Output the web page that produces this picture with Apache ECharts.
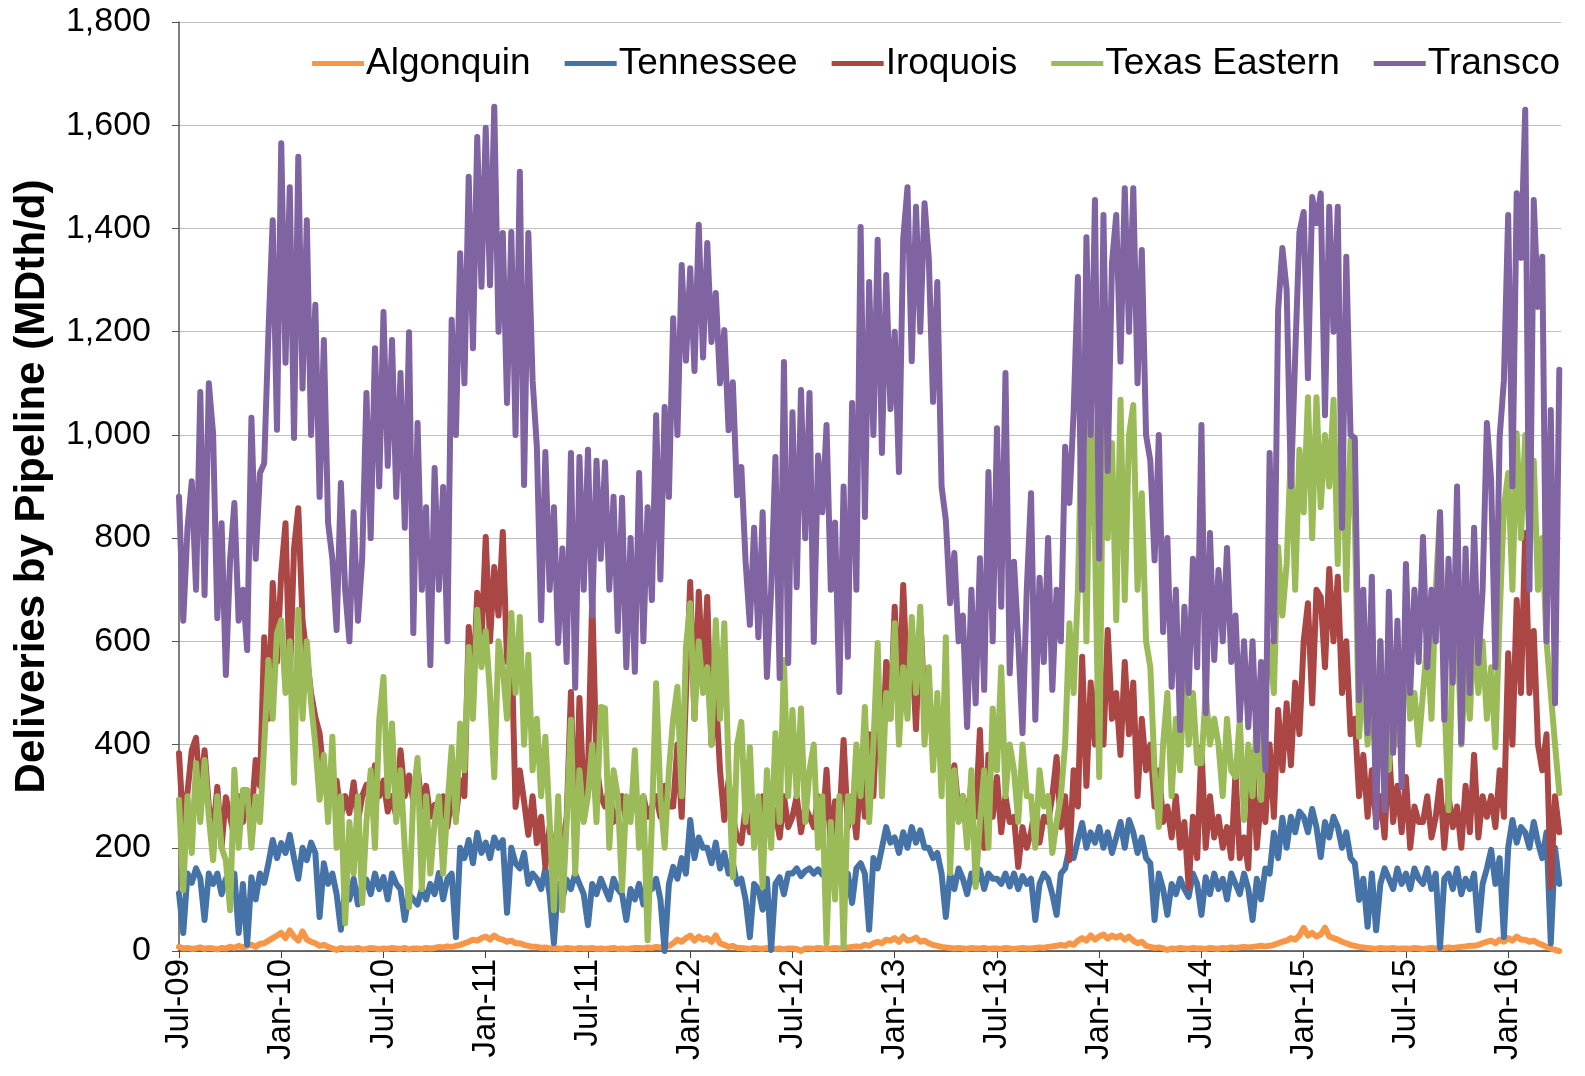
<!DOCTYPE html>
<html>
<head>
<meta charset="utf-8">
<script src="https://cdn.jsdelivr.net/npm/echarts@6/dist/echarts.min.js"></script>
<style>
html,body{margin:0;padding:0;background:#fff;}
#chart{width:1585px;height:1076px;}
</style>
</head>
<body>
<div id="chart"></div>
<script>
// Samples: 4 per month starting Jul-2009 (x value = months since Jul-2009)
const samplesPerMonth = 4;
const tickLabels = ['Jul-09','Jan-10','Jul-10','Jan-11','Jul-11','Jan-12','Jul-12','Jan-13','Jul-13','Jan-14','Jul-14','Jan-15','Jul-15','Jan-16'];
const seriesNames = ['Algonquin','Tennessee','Iroquois','Texas Eastern','Transco'];

const algonquin = [
8,5,6,4, 5,7,4,6, 5,3,6,5, 8,6,10,7, 10,12,8,14, 15,20,25,30,
35,25,40,28, 20,38,22,18, 15,10,12,8, 5,2,6,4, 5,4,6,3, 4,6,5,3,
5,4,6,5, 4,6,3,5, 5,4,6,5, 6,8,7,9, 8,10,12,15, 18,22,20,25,
28,22,30,24, 22,18,20,15, 15,12,10,8, 8,6,7,5, 6,5,4,6, 5,4,6,5,
5,6,4,5, 4,5,6,4, 5,4,5,6, 6,5,7,6, 8,7,9,10, 15,22,18,25,
30,20,28,22, 25,18,30,15, 12,8,10,6, 6,5,4,6, 5,4,6,5, 4,5,3,5,
5,4,0,5, 5,4,6,5, 4,5,6,5, 6,7,8,9, 8,12,10,15, 18,15,22,20,
25,18,28,20, 22,26,18,20, 15,12,10,8, 7,6,5,6, 5,4,6,5, 5,6,4,5,
5,4,6,5, 4,5,6,5, 5,6,7,6, 8,9,10,12, 10,15,12,20, 25,20,30,22,
28,32,24,30, 26,30,22,28, 20,15,18,10, 8,6,7,5, 2,5,4,6, 5,4,6,5,
5,4,6,5, 4,6,5,7, 6,7,8,7, 8,9,10,9, 10,12,15,18, 20,25,22,30,
45,30,35,28, 32,45,28,25, 22,18,15,12, 10,8,7,6, 5,4,6,5, 5,6,4,5,
5,4,6,5, 4,5,6,5, 5,6,7,6, 7,8,9,10, 10,12,15,18, 20,15,22,18,
25,20,28,22, 22,18,20,15, 12,8,5,2,
0];

const tennessee = [
112,35,150,132, 160,141,60,150, 130,150,110,140, 120,150,35,130, 12,143,100,150, 132,170,215,180,
209,190,225,180, 140,200,176,210, 190,66,170,130, 150,110,41,120, 100,140,90,130, 138,110,150,120,
143,100,150,130, 120,60,110,100, 90,120,100,130, 110,151,100,140, 150,27,200,180, 215,170,229,190,
210,180,220,200, 215,74,200,170, 160,190,130,150, 140,120,160,110, 15,130,100,138, 120,150,130,110,
50,130,110,140, 120,100,140,120, 110,60,120,100, 130,90,140,120, 140,100,0,130, 163,140,180,150,
254,180,220,200, 200,170,210,160, 190,150,170,130, 140,100,27,130, 120,80,140,2, 130,143,110,150,
150,160,145,155, 160,150,158,148, 155,145,160,150, 124,150,93,160, 170,150,41,180, 160,200,240,210,
220,190,230,200, 240,210,234,200, 200,180,190,150, 66,150,120,160, 140,110,150,130, 157,120,150,140,
140,130,150,125, 150,120,145,130, 140,60,130,150, 140,110,70,150, 160,200,180,215, 248,200,230,210,
240,200,230,190, 220,250,200,254, 230,190,220,180, 170,60,150,120, 70,130,110,140, 120,105,150,130,
70,143,110,150, 120,140,100,150, 130,110,150,120, 60,140,100,160, 150,229,180,258, 200,260,230,270,
260,230,275,240, 182,250,220,260, 240,200,230,180, 170,99,140,47, 150,40,130,160, 140,120,160,130,
150,120,160,140, 130,160,120,150, 6,140,150,120, 160,110,140,120, 150,40,130,160, 196,130,180,27,
200,254,210,240, 230,200,250,210, 180,230,15,200,
130];

const iroquois = [
383,240,308,389, 413,300,389,280, 229,318,202,298, 260,220,300,250, 302,260,370,320, 608,450,713,560,
732,829,525,780, 858,640,570,500, 453,422,340,308, 287,330,260,300, 267,327,250,300, 322,280,360,300,
330,270,300,260, 389,300,340,290, 357,279,320,260, 283,250,300,240, 300,260,331,300, 628,500,694,600,
802,600,744,650, 812,560,608,279, 350,290,225,300, 209,260,163,240, 180,230,200,260, 502,200,490,300,
350,684,360,300, 280,320,250,270, 300,250,280,326, 240,300,260,280, 300,260,320,280, 280,400,260,500,
715,450,696,520, 686,400,500,350, 254,330,260,220, 209,280,230,260, 250,300,240,280, 270,220,300,240,
260,300,230,280, 260,240,300,229, 351,200,290,250, 409,240,300,220, 350,260,420,300, 500,350,560,450,
667,480,709,500, 600,430,647,480, 520,380,450,350, 400,300,360,270, 300,250,326,260, 428,200,380,260,
337,230,300,250, 260,163,240,200, 230,280,210,260, 250,300,376,240, 300,176,350,280, 570,320,520,400,
577,400,622,450, 500,380,560,420, 520,300,450,350, 400,280,350,250, 280,220,300,200, 250,124,260,180,
395,200,300,220, 260,200,240,180, 345,180,220,160, 384,200,300,250, 400,260,467,350, 480,360,520,420,
600,674,480,700, 686,550,740,600, 725,500,600,420, 450,300,380,260, 350,250,300,220, 400,250,320,230,
337,200,280,250, 250,300,220,260, 330,200,300,240, 280,200,320,230, 380,220,300,260, 300,240,350,260,
577,400,680,500, 810,500,620,400, 350,420,124,300,
230];

const texasEastern = [
293,118,300,190, 364,250,370,260, 176,300,200,176, 79,351,200,312, 312,200,300,250, 400,564,450,616,
641,500,600,326, 661,450,600,480, 400,293,380,250, 415,200,300,54, 250,150,300,93, 250,350,200,448,
531,300,441,250, 350,200,85,300, 374,120,300,150, 250,300,150,280, 395,250,441,350, 589,450,661,550,
620,500,337,600, 550,450,655,500, 647,400,574,350, 450,300,415,250, 79,300,79,250, 448,150,350,250,
300,400,250,473, 470,200,350,300, 118,300,250,389, 200,300,21,250, 519,300,200,350, 450,512,300,589,
674,450,600,500, 550,400,641,450, 635,350,143,400, 444,250,395,200, 300,124,350,200, 422,250,564,300,
467,300,470,250, 350,400,200,300, 15,250,100,300, 8,300,250,400, 300,473,250,400, 597,300,500,450,
635,400,550,450, 647,500,667,400, 550,350,500,300, 608,151,350,250, 300,200,350,124, 250,350,200,470,
350,550,300,400, 350,250,400,300, 300,200,350,280, 300,190,250,300, 400,635,500,700, 1072,600,1072,800,
337,1072,800,984, 641,1068,680,1000, 1058,700,887,600, 550,350,240,400, 500,300,450,350, 550,400,500,364,
364,500,400,450, 400,300,450,350, 337,450,254,400, 300,450,293,500, 600,500,783,650, 750,971,700,971,
850,1073,800,1073, 860,1000,900,1068, 750,1068,700,990, 835,415,550,400, 500,350,600,400, 351,500,400,550,
600,450,500,400, 500,600,450,700, 850,500,273,600, 650,400,550,450, 635,500,600,450, 550,395,650,860,
926,700,1003,800, 1000,800,950,700, 800,600,500,400,
306];

const transco = [
880,640,820,910, 700,1083,690,1100, 1003,645,829,535, 760,868,640,700, 583,1033,760,926, 945,1200,1416,1010,
1565,1140,1480,994, 1539,1090,1416,1000, 1252,880,1184,829, 760,622,907,700, 600,850,640,760, 1081,800,1168,900,
1238,940,1184,880, 1120,820,1199,616, 1023,700,860,554, 936,700,899,600, 1223,1000,1352,1100, 1500,1168,1577,1287,
1595,1290,1636,1200, 1391,1062,1393,1000, 1510,903,1391,1106, 977,641,967,700, 860,597,780,560, 965,510,957,700,
971,650,950,760, 947,700,880,620, 878,550,800,541, 926,600,860,680, 1038,720,1054,880, 1226,1000,1329,1144,
1323,1124,1407,1150, 1372,1180,1275,1100, 1203,1009,1102,883, 938,754,632,820, 608,850,531,700, 957,529,1141,558,
1044,705,1087,800, 1081,599,960,850, 1019,700,830,502, 900,570,1062,700, 1403,841,1296,1000, 1378,965,1310,1050,
1200,928,1380,1480, 1143,1442,1200,1449, 1343,1064,1296,900, 835,674,771,600, 650,434,700,480, 761,506,928,600,
1013,667,1120,538, 754,600,422,700, 887,448,723,560, 800,506,700,600, 977,868,1044,1306, 700,1383,1000,1455,
760,1426,930,1333, 1426,1142,1478,1200, 1478,1100,1358,1000, 950,757,1000,618, 800,512,700,428, 667,500,760,550,
1019,461,810,564, 738,600,781,560, 650,448,600,434, 600,389,560,351, 965,600,1242,1362, 1281,900,1151,1393,
1432,1110,1461,1410, 1468,1038,1442,1200, 1442,820,1345,1000, 994,486,700,422, 725,240,600,273, 696,384,640,318,
750,500,700,560, 802,550,700,600, 850,448,760,520, 900,403,780,500, 820,558,700,1023, 912,550,996,1106,
1426,900,1468,1343, 1630,700,1455,1248, 1345,600,1048,480,
1126];

const seriesValues = [algonquin, tennessee, iroquois, texasEastern, transco];
const colors = ['#F79646','#4572A7','#AA4643','#9BBB59','#8064A2'];
const FONT = '"Liberation Sans", Arial, sans-serif';

function toPairs(arr){ return arr.map((v,i)=>[i / samplesPerMonth, v]); }

const chart = echarts.init(document.getElementById('chart'), null, {renderer:'canvas'});
chart.setOption({
  animation: false,
  backgroundColor: '#ffffff',
  color: colors,
  grid: {left: 179, right: 24, top: 22, bottom: 125, containLabel: false},
  legend: {
    data: seriesNames,
    right: 20, top: 40,
    icon: 'rect', itemWidth: 52, itemHeight: 5, itemGap: 34,
    textStyle: {fontFamily: FONT, fontSize: 37, color: '#000', padding: [0,0,0,-3]}
  },
  xAxis: {
    type: 'value', min: 0, max: 81.1, interval: 6,
    axisLine: {show: true, onZero: false, lineStyle: {color: '#404040', width: 1.5}},
    axisTick: {show: true, length: 7, lineStyle: {color: '#404040'}},
    splitLine: {show: false},
    axisLabel: {
      rotate: 90, margin: 8, color: '#000', fontFamily: FONT, fontSize: 33,
      showMaxLabel: false,
      formatter: function(v){ return (v % 6 === 0) ? (tickLabels[v/6] || '') : ''; }
    }
  },
  yAxis: {
    type: 'value', min: 0, max: 1800, interval: 200,
    name: 'Deliveries by Pipeline (MDth/d)',
    nameLocation: 'middle', nameGap: 126,
    nameTextStyle: {fontFamily: FONT, fontSize: 42, fontWeight: 'bold', color: '#000'},
    axisLine: {show: true, lineStyle: {color: '#555', width: 1.5}},
    axisTick: {show: true, length: 7, lineStyle: {color: '#555'}},
    splitLine: {show: true, lineStyle: {color: '#C0C0C0', width: 1.2}},
    axisLabel: {
      margin: 28, color: '#000', fontFamily: FONT, fontSize: 34,
      formatter: function(v){ return v.toLocaleString('en-US'); }
    }
  },
  series: seriesNames.map((name, k) => ({
    name: name, type: 'line', symbol: 'none', showSymbol: false,
    data: toPairs(seriesValues[k]),
    lineStyle: {width: 6, color: colors[k], cap: 'round', join: 'round'},
    itemStyle: {color: colors[k]},
    z: 2 + k
  }))
});
</script>
</body>
</html>
